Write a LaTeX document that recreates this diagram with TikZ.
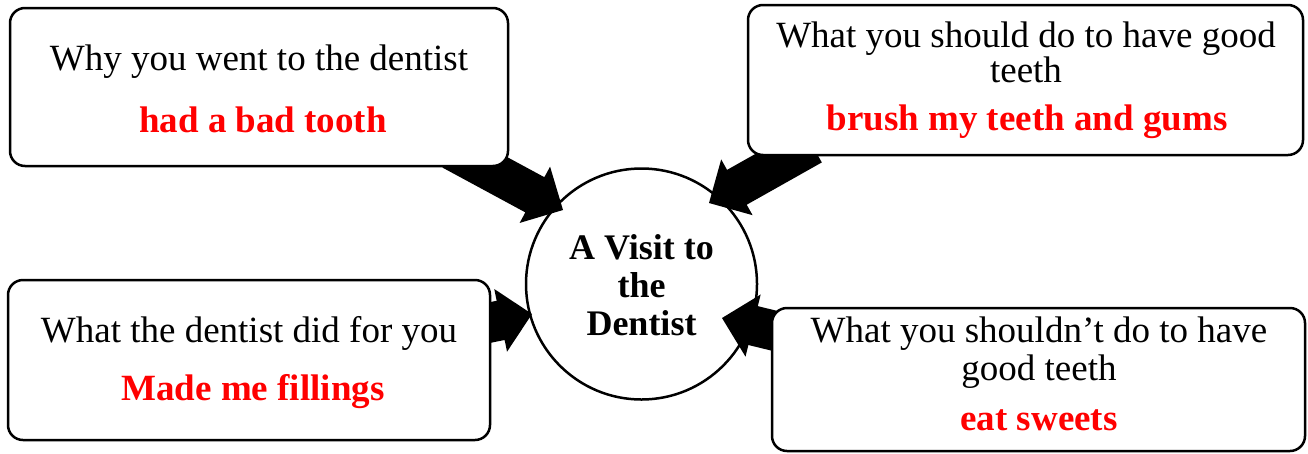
\documentclass[tikz,border=0pt]{standalone}
\usepackage{fontspec}
\setmainfont{Liberation Serif}
\usetikzlibrary{calc}
\newcommand\blockarr[2]{%
  \fill[black] ($(#1)!20pt!90:(#2)$) -- ($($(#2)!32pt!(#1)$)!20pt!-90:(#1)$)
    -- ($($(#2)!32pt!(#1)$)!32pt!-90:(#1)$) -- (#2)
    -- ($($(#2)!32pt!(#1)$)!32pt!90:(#1)$) -- ($($(#2)!32pt!(#1)$)!20pt!90:(#1)$)
    -- ($(#1)!20pt!-90:(#2)$) -- cycle;}
\begin{document}
\begin{tikzpicture}[x=1pt,y=-1pt,
  box/.style={draw, line width=2.5pt, rounded corners=15pt, fill=white, inner sep=0pt},
  hub/.style={draw, circle, line width=2.5pt, fill=white, inner sep=0pt, minimum size=231pt},
  lbl/.style={anchor=base, inner sep=0pt, font=\fontsize{37}{37}\selectfont},
  ans/.style={anchor=base, inner sep=0pt, text=red, font=\fontsize{37}{37}\selectfont\bfseries},
  hubtxt/.style={anchor=base, inner sep=0pt, font=\fontsize{36}{36}\selectfont\bfseries}
]
\useasboundingbox (0,0) rectangle (1308,453);

% central circle
\node[hub] (c) at (641.5,284) {};

% arrow end points
\coordinate (s1) at (452,150);  \coordinate (t1) at (563,210);
\coordinate (s2) at (812,145);  \coordinate (t2) at (709,203);
\coordinate (s3) at (473,326);  \coordinate (t3) at (532,314);
\coordinate (s4) at (800,337);  \coordinate (t4) at (722,318);
\blockarr{s1}{t1}
\blockarr{s2}{t2}
\blockarr{s3}{t3}
\blockarr{s4}{t4}

% boxes
\node[box, minimum width=498pt, minimum height=158pt] (b1) at (259,87) {};
\node[box, minimum width=555pt, minimum height=150pt] (b2) at (1025.5,80) {};
\node[box, minimum width=482pt, minimum height=160pt] (b3) at (249,360) {};
\node[box, minimum width=533pt, minimum height=143pt] (b4) at (1038.5,379.5) {};

% texts
\node[lbl] (q1) at (259,70) {Why you went to the dentist};
\node[ans] (a1) at (263,132) {had a bad tooth};

\node[lbl] (q2a) at (1026,47) {What you should do to have good};
\node[lbl] (q2b) at (1026,82) {teeth};
\node[ans] (a2) at (1027,130) {brush my teeth and gums};

\node[lbl] (q3) at (249,342) {What the dentist did for you};
\node[ans] (a3) at (253,400) {Made me fillings};

\node[lbl] (q4a) at (1039,342) {What you shouldn’t do to have};
\node[lbl] (q4b) at (1039,380) {good teeth};
\node[ans] (a4) at (1039,430) {eat sweets};

\node[hubtxt] (h1) at (641.5,259) {A Visit to};
\node[hubtxt] (h2) at (641.5,297) {the};
\node[hubtxt] (h3) at (641.5,335) {Dentist};
\end{tikzpicture}
\end{document}
